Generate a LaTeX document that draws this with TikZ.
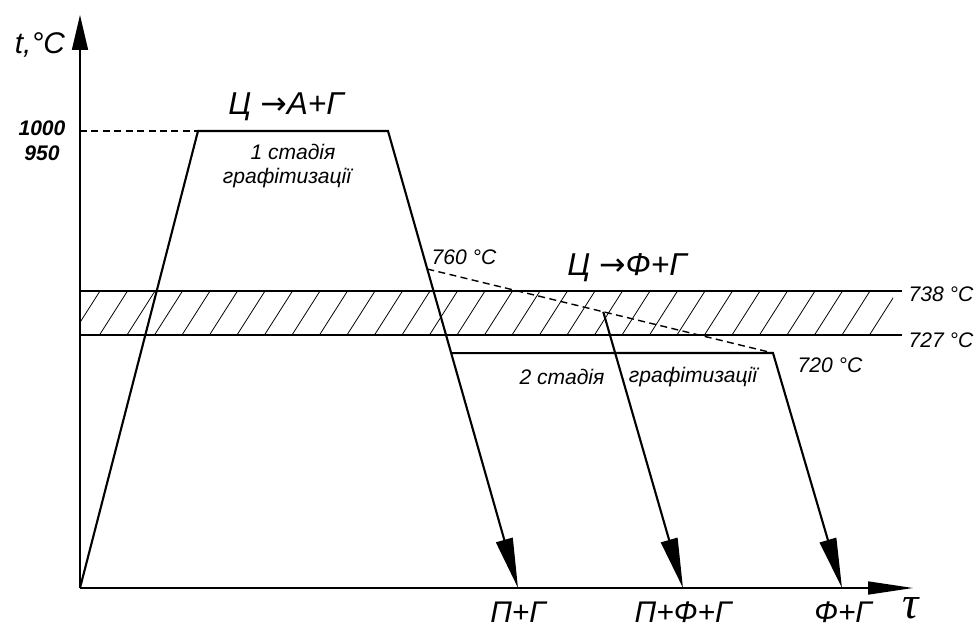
\documentclass[tikz,border=0pt]{standalone}
\usepackage{fontspec}
\setmainfont{Liberation Sans}
\newfontfamily\arrfont{DejaVu Sans}
\newfontfamily\taufont{Liberation Serif}
\usetikzlibrary{arrows.meta, positioning, calc}

\begin{document}
\begin{tikzpicture}[
    x=0.02cm, y=0.02cm, font=\itshape,
    axis/.style={line width=0.9pt, -{Triangle[length=0.7cm, width=0.32cm]}},
    cool/.style={line width=1.2pt, -{Triangle[length=1cm, width=0.34cm]}},
    lvl/.style={line width=0.6pt},
    hatch/.style={line width=0.45pt},
    dsh/.style={line width=0.8pt, dash pattern=on 4pt off 2.5pt},
    trans/.style={font=\fontsize{18}{20}\selectfont\itshape},
    phase/.style={font=\fontsize{17}{19}\selectfont\itshape},
    lbl/.style={font=\fontsize{12}{14}\selectfont\itshape},
    val/.style={font=\fontsize{12}{14}\selectfont\bfseries\itshape},
]
\useasboundingbox (-80,-39) rectangle (898,588);

% axes
\coordinate (o) at (0,0);
\coordinate (ytop) at (0,573);
\coordinate (xend) at (833,0);
\draw[axis] (o) -- (ytop);
\draw[axis, -{Triangle[length=0.9cm, width=0.26cm]}] (o) -- (xend);

% band 727..738
\coordinate (a727) at (0,253);
\coordinate (a738) at (0,297);
\coordinate (e727) at (822,253);
\coordinate (e738) at (822,297);
\begin{scope}
\clip (a727) rectangle (813,297);
\foreach \k in {0,...,30}
    \draw[hatch] ({\k*27.5-8},253) -- ++(28,44);
\end{scope}
\draw[lvl] (a738) -- (e738);
\draw[lvl] (a727) -- (e727);

% 1st stage
\coordinate (y1000) at (0,457);
\coordinate (heat) at (118,457);
\coordinate (hold) at (308,457);
\coordinate (c1) at (438,0);
\draw[dsh] (y1000) -- (heat);
\draw[cool] (o) -- (heat) -- (hold) -- (c1);

% 2nd stage
\coordinate (t760) at ($(hold)!0.302!(c1)$);
\coordinate (s2a) at ($(hold)!0.486!(c1)$);
\coordinate (s2b) at (693,235);
\coordinate (c3) at (762,0);
\coordinate (mid) at ($(t760)!0.509!(s2b)$);
\coordinate (c2) at (603,0);
\draw[dsh] (t760) -- (s2b);
\draw[cool] (s2a) -- (s2b) -- (c3);
\draw[cool] (mid) -- (c2);

% labels
\node[phase] (tc) at (-40,543) {t,°C};
\node[val] (v1000) at (-38,460) {1000};
\node[val] (v950) at (-38,435) {950};
\node[trans] (r1) at (206,481) {Ц {\arrfont →}А+Г};
\node[lbl] (st1) at (213,436) {1 стадія};
\node[lbl] (gr1) at (207,410) {графітизації};
\node[lbl] (l760) at (384,331) {760 °C};
\node[trans] (r2) at (547,320) {Ц {\arrfont →}Ф+Г};
\node[lbl] (l738) at (861,294) {738 °C};
\node[lbl] (l727) at (861,248) {727 °C};
\node[lbl] (l720) at (750,223) {720 °C};
\node[lbl] (st2) at (482,211) {2 стадія};
\node[lbl] (gr2) at (613,211) {графітизації};
\node[phase] (p1) at (438,-24) {П+Г};
\node[phase] (p2) at (603,-24) {П+Ф+Г};
\node[phase] (p3) at (763,-24) {Ф+Г};
\node[font=\fontsize{26}{28}\selectfont\taufont\itshape] (tau) at (831,-20) {τ};
\end{tikzpicture}
\end{document}
